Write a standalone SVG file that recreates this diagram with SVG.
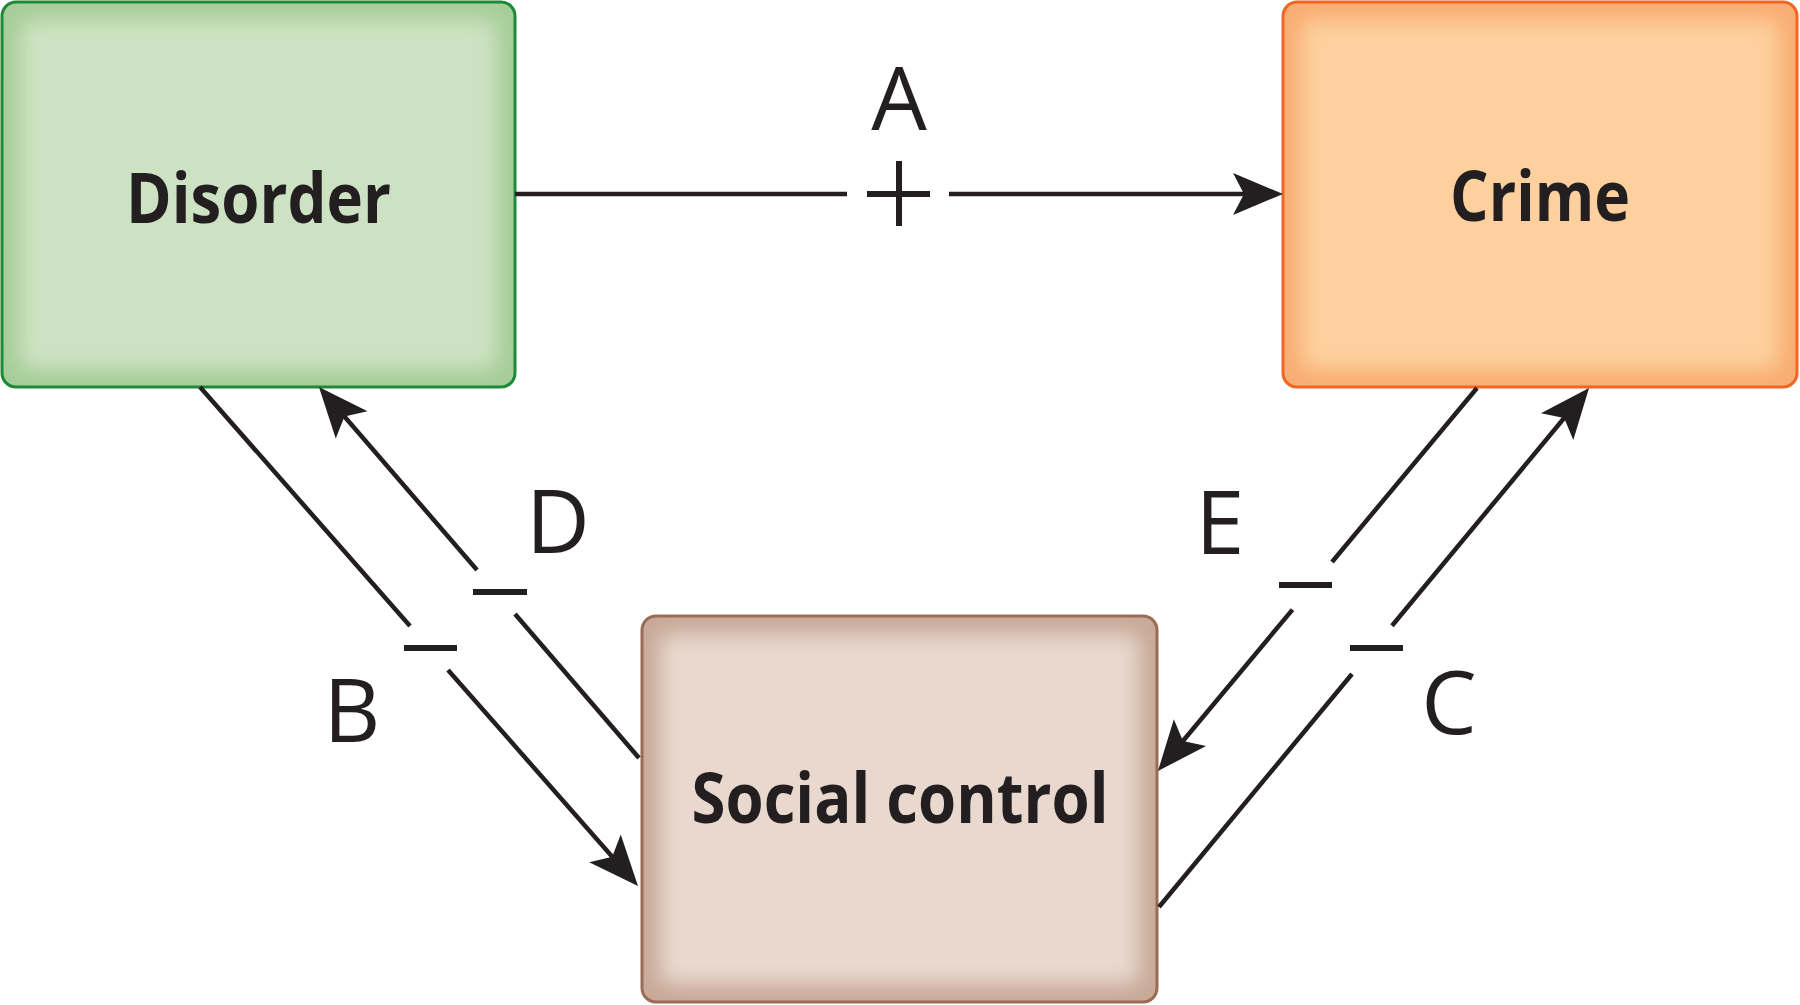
<svg xmlns="http://www.w3.org/2000/svg" width="1800" height="1005" viewBox="0 0 1800 1005">
  <style>
    .node-label { font-family: "Open Sans", "Liberation Sans", sans-serif; font-weight: 700; font-size: 70px; fill: #231f20; text-anchor: middle; }
    .edge-label { font-family: "Open Sans", "Liberation Sans", sans-serif; font-weight: 400; font-size: 88px; fill: #231f20; text-anchor: middle; }
    .conn { stroke: #231f20; stroke-width: 4.5; fill: none; }
    .sign { stroke: #231f20; stroke-width: 6; fill: none; }
    .border { fill: none; stroke-width: 3; }
  </style>
  <defs>
    <marker id="arrow" markerUnits="userSpaceOnUse" markerWidth="70" markerHeight="56" refX="0" refY="0" viewBox="-14 -28 70 56" orient="auto" overflow="visible">
      <path d="M38,0 L-12,-21 L-1,0 L-12,21 Z" fill="#231f20"/>
    </marker>
    <filter id="soft" x="-20%" y="-20%" width="140%" height="140%">
      <feGaussianBlur stdDeviation="10"/>
    </filter>
    <clipPath id="clipD"><rect x="2" y="2" width="513" height="385" rx="14"/></clipPath>
    <clipPath id="clipC"><rect x="1283" y="2" width="514" height="385" rx="14"/></clipPath>
    <clipPath id="clipS"><rect x="642" y="616" width="515" height="386" rx="14"/></clipPath>
  </defs>

  <rect width="1800" height="1005" fill="#ffffff"/>

  <g id="node-disorder">
    <g clip-path="url(#clipD)">
      <rect x="2" y="2" width="513" height="385" fill="#a6cd98"/>
      <rect x="20" y="20" width="477" height="349" rx="10" fill="#cde2c2" filter="url(#soft)"/>
    </g>
    <rect class="border" x="2" y="2" width="513" height="385" rx="14" stroke="#1d8a35"/>
    <text class="node-label" x="258.5" y="223" textLength="265" lengthAdjust="spacingAndGlyphs">Disorder</text>
  </g>

  <g id="node-crime">
    <g clip-path="url(#clipC)">
      <rect x="1283" y="2" width="514" height="385" fill="#f8ad73"/>
      <rect x="1301" y="20" width="478" height="349" rx="10" fill="#fdd09d" filter="url(#soft)"/>
    </g>
    <rect class="border" x="1283" y="2" width="514" height="385" rx="14" stroke="#f26522"/>
    <text class="node-label" x="1540" y="221" textLength="180" lengthAdjust="spacingAndGlyphs">Crime</text>
  </g>

  <g id="node-social-control">
    <g clip-path="url(#clipS)">
      <rect x="642" y="616" width="515" height="386" fill="#c8a998"/>
      <rect x="660" y="634" width="479" height="350" rx="10" fill="#e8d8ce" filter="url(#soft)"/>
    </g>
    <rect class="border" x="642" y="616" width="515" height="386" rx="14" stroke="#9b6b56"/>
    <text class="node-label" x="900" y="823" textLength="417" lengthAdjust="spacingAndGlyphs">Social control</text>
  </g>

  <g id="connectors">
    <!-- A: Disorder -> Crime (+) -->
    <line class="conn" x1="515" y1="194" x2="847" y2="194"/>
    <line class="conn" x1="949" y1="194" x2="1245" y2="194" marker-end="url(#arrow)"/>
    <line class="sign" x1="867" y1="194" x2="930" y2="194"/>
    <line class="sign" x1="899" y1="161" x2="899" y2="226"/>

    <!-- B: Disorder -> Social control (-) -->
    <line class="conn" x1="200" y1="387" x2="410" y2="626"/>
    <line class="conn" x1="448" y1="670" x2="612.9" y2="857.4" marker-end="url(#arrow)"/>
    <line class="sign" x1="404" y1="648" x2="457" y2="648"/>

    <!-- D: Social control -> Disorder (-) -->
    <line class="conn" x1="639" y1="758" x2="515" y2="614"/>
    <line class="conn" x1="477" y1="570" x2="343.8" y2="415.8" marker-end="url(#arrow)"/>
    <line class="sign" x1="473" y1="592" x2="527" y2="592"/>

    <!-- E: Crime -> Social control (-) -->
    <line class="conn" x1="1477" y1="388" x2="1332" y2="562"/>
    <line class="conn" x1="1292.5" y1="609.6" x2="1182.3" y2="741.8" marker-end="url(#arrow)"/>
    <line class="sign" x1="1279" y1="585" x2="1332" y2="585"/>

    <!-- C: Social control -> Crime (-) -->
    <line class="conn" x1="1159" y1="907" x2="1352" y2="674"/>
    <line class="conn" x1="1392" y1="625.8" x2="1564.8" y2="417.3" marker-end="url(#arrow)"/>
    <line class="sign" x1="1350" y1="648" x2="1403" y2="648"/>

    <text class="edge-label" x="899" y="130">A</text>
    <text class="edge-label" x="352" y="742">B</text>
    <text class="edge-label" x="1449" y="734">C</text>
    <text class="edge-label" x="558" y="553">D</text>
    <text class="edge-label" x="1220" y="554">E</text>
  </g>
</svg>
